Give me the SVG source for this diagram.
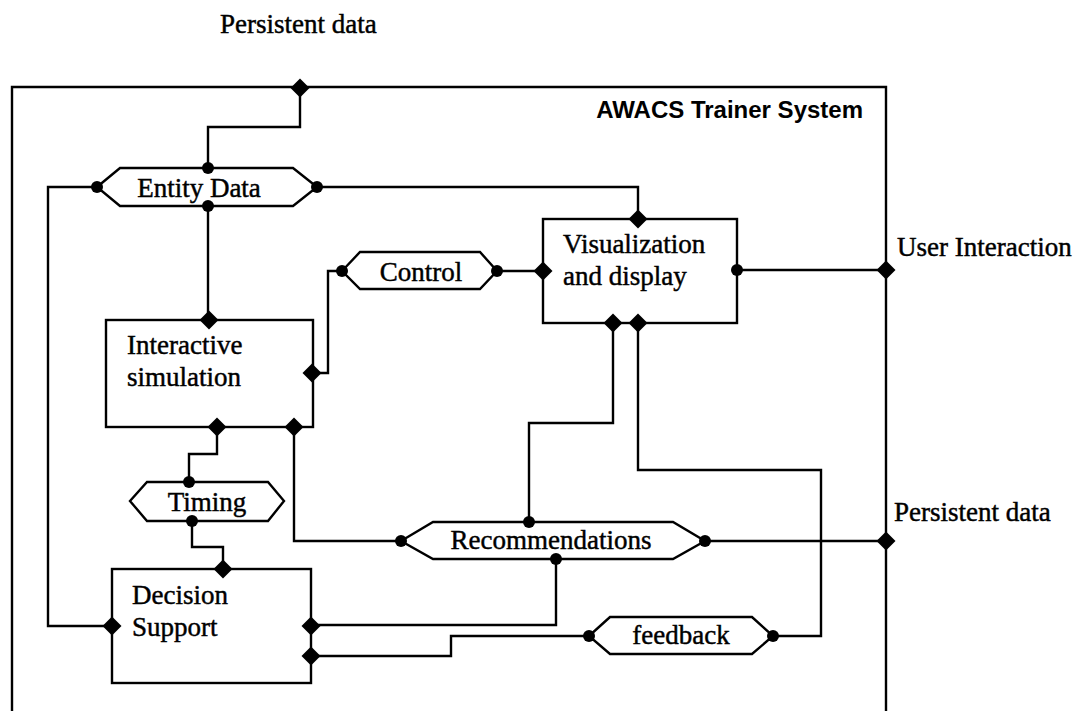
<svg xmlns="http://www.w3.org/2000/svg" xmlns:xlink="http://www.w3.org/1999/xlink" width="1073" height="711" viewBox="0 0 1073 711">
  <style>
    .line { fill: none; stroke: #000; stroke-width: 2.4; stroke-linejoin: miter; }
    .box { fill: #fff; stroke: #000; stroke-width: 2.4; }
    .lbl { font-family: "Liberation Serif", "Times New Roman", serif; font-size: 27px; fill: #000; stroke: #000; stroke-width: 0.45; }
    .title { font-family: "Liberation Sans", Arial, sans-serif; font-size: 24px; font-weight: bold; fill: #000; }
    .dot { fill: #000; }
  </style>
  <defs>
    <polygon id="port" points="0,-9.5 9.5,0 0,9.5 -9.5,0" fill="#000"/>
  </defs>
  <rect width="1073" height="711" fill="#fff"/>

  <!-- system boundary -->
  <g id="system">
    <path class="line" d="M12,711 V87 H886 V711"/>
    <text class="title" x="863" y="118" text-anchor="end">AWACS Trainer System</text>
  </g>

  <!-- external labels -->
  <g id="ext-persistent-top">
    <text class="lbl" x="220" y="33">Persistent data</text>
  </g>
  <g id="ext-user">
    <text class="lbl" x="897" y="256">User Interaction</text>
  </g>
  <g id="ext-persistent-right">
    <text class="lbl" x="894" y="521">Persistent data</text>
  </g>

  <!-- connectors -->
  <g id="connectors">
    <path class="line" d="M300,88 V127 H208 V168"/>
    <path class="line" d="M97,187 H48 V626 H112"/>
    <path class="line" d="M317,187 H638 V219"/>
    <path class="line" d="M208,206 V320"/>
    <path class="line" d="M497,271 H543"/>
    <path class="line" d="M342,271 H328 V373 H312"/>
    <path class="line" d="M217,427 V454 H189 V482"/>
    <path class="line" d="M294,427 V541 H401"/>
    <path class="line" d="M192,521 V547 H223 V569"/>
    <path class="line" d="M311,625 H556 V559"/>
    <path class="line" d="M311,656 H451 V636 H589"/>
    <path class="line" d="M773,636 H821 V470 H638 V323"/>
    <path class="line" d="M529,522 V423 H613 V323"/>
    <path class="line" d="M705,541 H886"/>
    <path class="line" d="M737,270 H886"/>
  </g>

  <!-- data stores (hexagons) -->
  <g id="entity-data">
    <polygon class="box" points="97,187 120,168 293,168 317,187 293,206 120,206"/>
    <text class="lbl" x="199" y="197" text-anchor="middle">Entity Data</text>
  </g>
  <g id="control">
    <polygon class="box" points="342,271 360,252 480,252 497,271 480,289 360,289"/>
    <text class="lbl" x="421" y="281" text-anchor="middle">Control</text>
  </g>
  <g id="timing">
    <polygon class="box" points="130,501 147,482 268,482 284,501 268,521 147,521"/>
    <text class="lbl" x="207" y="511" text-anchor="middle">Timing</text>
  </g>
  <g id="recommendations">
    <polygon class="box" points="401,541 433,522 673,522 705,541 673,559 433,559"/>
    <text class="lbl" x="551" y="549" text-anchor="middle">Recommendations</text>
  </g>
  <g id="feedback">
    <polygon class="box" points="589,636 610,617 752,617 773,636 752,654 610,654"/>
    <text class="lbl" x="681" y="644" text-anchor="middle">feedback</text>
  </g>

  <!-- processes (boxes) -->
  <g id="visualization">
    <rect class="box" x="543" y="219" width="194" height="104"/>
    <text class="lbl" x="563" y="253">Visualization</text>
    <text class="lbl" x="563" y="285">and display</text>
  </g>
  <g id="interactive-simulation">
    <rect class="box" x="106" y="320" width="207" height="107"/>
    <text class="lbl" x="127" y="354">Interactive</text>
    <text class="lbl" x="127" y="386">simulation</text>
  </g>
  <g id="decision-support">
    <rect class="box" x="112" y="569" width="199" height="114"/>
    <text class="lbl" x="132" y="604">Decision</text>
    <text class="lbl" x="132" y="636">Support</text>
  </g>

  <!-- ports: diamonds on processes/boundary, dots on data stores -->
  <g id="ports">
    <use xlink:href="#port" x="300" y="88"/>
    <use xlink:href="#port" x="638" y="219"/>
    <use xlink:href="#port" x="543" y="271"/>
    <use xlink:href="#port" x="209" y="320"/>
    <use xlink:href="#port" x="312" y="373"/>
    <use xlink:href="#port" x="217" y="427"/>
    <use xlink:href="#port" x="294" y="427"/>
    <use xlink:href="#port" x="613" y="323"/>
    <use xlink:href="#port" x="638" y="323"/>
    <use xlink:href="#port" x="886" y="270"/>
    <use xlink:href="#port" x="886" y="541"/>
    <use xlink:href="#port" x="223" y="569"/>
    <use xlink:href="#port" x="112" y="626"/>
    <use xlink:href="#port" x="311" y="626"/>
    <use xlink:href="#port" x="311" y="656"/>
    <circle class="dot" cx="208" cy="168" r="6"/>
    <circle class="dot" cx="97" cy="187" r="6"/>
    <circle class="dot" cx="317" cy="187" r="6"/>
    <circle class="dot" cx="208" cy="206" r="6"/>
    <circle class="dot" cx="342" cy="271" r="6"/>
    <circle class="dot" cx="497" cy="271" r="6"/>
    <circle class="dot" cx="737" cy="270" r="6"/>
    <circle class="dot" cx="189" cy="482" r="6"/>
    <circle class="dot" cx="192" cy="521" r="6"/>
    <circle class="dot" cx="401" cy="541" r="6"/>
    <circle class="dot" cx="529" cy="522" r="6"/>
    <circle class="dot" cx="556" cy="559" r="6"/>
    <circle class="dot" cx="705" cy="541" r="6"/>
    <circle class="dot" cx="589" cy="636" r="6"/>
    <circle class="dot" cx="773" cy="636" r="6"/>
  </g>
</svg>
